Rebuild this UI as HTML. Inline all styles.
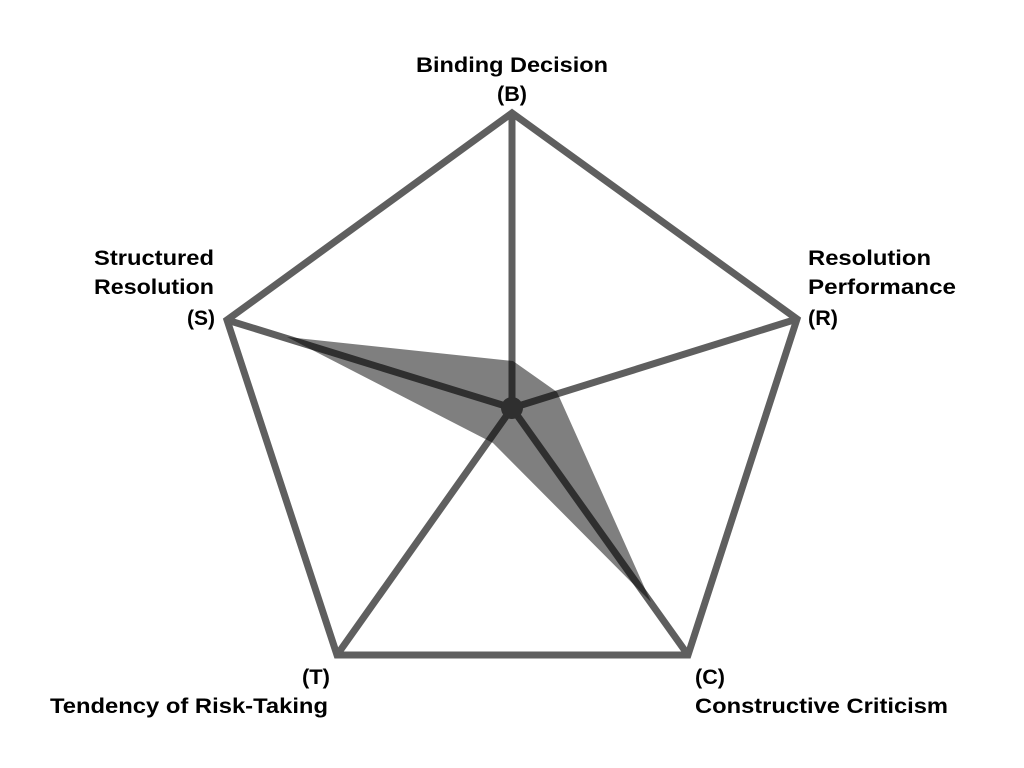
<!DOCTYPE html>
<html><head><style>html,body{margin:0;padding:0;background:#fff;}svg{display:block}</style></head>
<body>
<svg width="1024" height="768" viewBox="0 0 1024 768" xmlns="http://www.w3.org/2000/svg">
<g stroke="#5f5f5f" stroke-width="7" fill="none" stroke-linejoin="miter">
<polygon points="512,113 797,319 688,655 337,655 227,320"/>
<line x1="512" y1="408" x2="512" y2="113"/>
<line x1="512" y1="408" x2="797" y2="319"/>
<line x1="512" y1="408" x2="688" y2="655"/>
<line x1="512" y1="408" x2="337" y2="655"/>
<line x1="512" y1="408" x2="227" y2="320"/>
</g>
<polygon points="287,337 513,361 557,392 651,602 493,443" fill="#000" fill-opacity="0.5"/>
<circle cx="512" cy="408" r="11" fill="#2f2f2f"/>
<g font-family="Liberation Sans, sans-serif" font-weight="bold" font-size="21" fill="#000" lengthAdjust="spacingAndGlyphs">
<text x="416" y="72" textLength="192" lengthAdjust="spacingAndGlyphs">Binding Decision</text>
<text x="497" y="101" textLength="30" lengthAdjust="spacingAndGlyphs">(B)</text>
<text x="94" y="265" textLength="120" lengthAdjust="spacingAndGlyphs">Structured</text>
<text x="94" y="294" textLength="120" lengthAdjust="spacingAndGlyphs">Resolution</text>
<text x="187" y="325" textLength="28" lengthAdjust="spacingAndGlyphs">(S)</text>
<text x="808" y="265" textLength="123" lengthAdjust="spacingAndGlyphs">Resolution</text>
<text x="808" y="294" textLength="148" lengthAdjust="spacingAndGlyphs">Performance</text>
<text x="808" y="325" textLength="30" lengthAdjust="spacingAndGlyphs">(R)</text>
<text x="302" y="684" textLength="28" lengthAdjust="spacingAndGlyphs">(T)</text>
<text x="50" y="713" textLength="278" lengthAdjust="spacingAndGlyphs">Tendency of Risk-Taking</text>
<text x="695" y="684" textLength="30" lengthAdjust="spacingAndGlyphs">(C)</text>
<text x="695" y="713" textLength="253" lengthAdjust="spacingAndGlyphs">Constructive Criticism</text>
</g>
</svg>
</body></html>
